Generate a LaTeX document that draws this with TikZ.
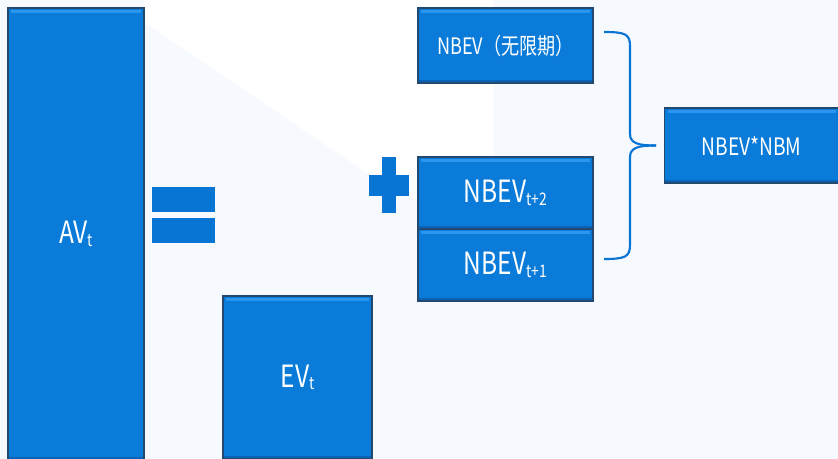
\documentclass[tikz,border=0pt]{standalone}
\usepackage{fontspec}
\setmainfont{Noto Sans CJK SC}[FakeStretch=0.8]
\usetikzlibrary{calc}
\usetikzlibrary{positioning}

\definecolor{bgcol}{HTML}{F6F9FE}
\definecolor{boxfill}{HTML}{0B7BD9}
\definecolor{boxhi}{HTML}{2C95EE}
\definecolor{boxlo}{HTML}{0964B8}
\definecolor{boxline}{HTML}{24496E}
\definecolor{signcol}{HTML}{0875D5}

% small lowered index
\newcommand{\idx}[1]{\raisebox{-2pt}{\fontsize{13}{13}\selectfont #1}}

\begin{document}
\begin{tikzpicture}[x=0.75pt, y=-0.75pt, node distance=0pt]
    \tikzstyle{block}=[draw=boxline, line width=0.8pt, fill=boxfill, text=white,
        inner sep=0pt, outer sep=0pt,
        path picture={
            \fill[boxhi] ($(path picture bounding box.north west)+(2pt,-1.5pt)$)
                rectangle ($(path picture bounding box.north east)+(-2pt,-4pt)$);
            \fill[boxlo] ($(path picture bounding box.south west)+(0pt,0pt)$)
                rectangle ($(path picture bounding box.south east)+(0pt,2.5pt)$);
        }]
    \tikzstyle{sign}=[fill=signcol]

    % background
    \useasboundingbox (0,0) rectangle (838,459);
    \fill[bgcol] (0,0) rectangle (838,459);
    \fill[white] (144,0) -- (493,0) -- (493,240) -- (370,175) -- (144,22) -- cycle;

    % blocks
    \node[block, minimum width=102pt, minimum height=339pt, font=\fontsize{23}{26}\selectfont]
        (av) at (76,234) {AV\idx{t}};
    \node[block, minimum width=111.75pt, minimum height=122.25pt, font=\fontsize{23}{26}\selectfont]
        (ev) at (297.5,377.5) {EV\idx{t}};
    \node[block, minimum width=131.25pt, minimum height=56.25pt, font=\fontsize{17}{20}\selectfont]
        (nbinf) at (505.5,45.5) {NBEV（无限期）};
    \node[block, minimum width=131.25pt, minimum height=54pt, font=\fontsize{23}{26}\selectfont]
        (nb2) at (505.5,193) {NBEV\idx{t+2}};
    \node[block, minimum width=131.25pt, minimum height=54pt, font=\fontsize{23}{26}\selectfont,
        below=of nb2] (nb1) {NBEV\idx{t+1}};
    \node[block, minimum width=130pt, minimum height=56.25pt, font=\fontsize{18}{22}\selectfont]
        (nbm) at (751.5,145.5) {NBEV*NBM};

    % equals and plus signs
    \fill[sign] (152,187) rectangle (215,212);
    \fill[sign] (152,218) rectangle (215,243);
    \fill[sign] (369,175) rectangle (409,196);
    \fill[sign] (382,157) rectangle (396,213);

    % brace
    \coordinate (bt) at (604,32);
    \coordinate (bb) at (604,259);
    \draw[signcol, line width=1.6pt]
        (bt) .. controls (625,32) and (630,34) .. (630,46)
        -- (630,134) .. controls (630,144) and (640,145.5) .. (nbm.west -| 656,0);
    \draw[signcol, line width=1.6pt]
        (nbm.west -| 656,0) .. controls (640,145.5) and (630,147) .. (630,157)
        -- (630,245) .. controls (630,257) and (625,259) .. (bb);
\end{tikzpicture}
\end{document}
